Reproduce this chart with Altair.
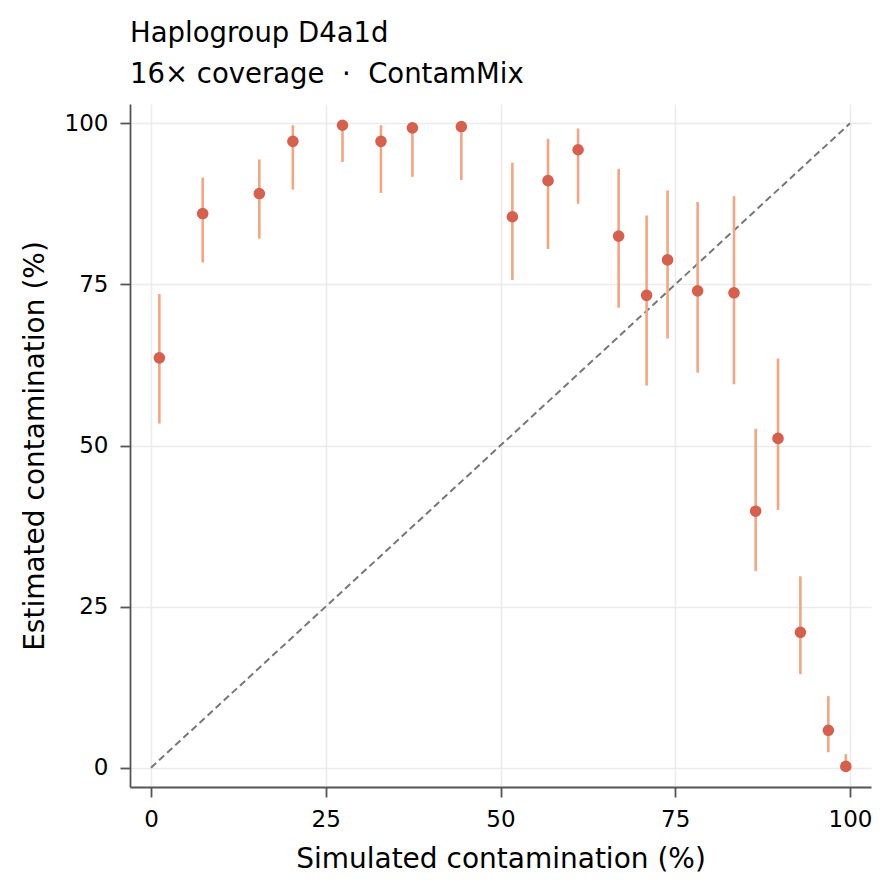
import altair as alt
import pandas as pd

# Simulated contamination (%)
sim = [1.2, 7.4, 15.5, 20.3, 27.4, 32.9, 37.4, 44.4, 51.7, 56.8, 61.1,
       66.9, 70.9, 73.9, 78.2, 83.4, 86.5, 89.7, 92.9, 96.9, 99.4]
# Estimated contamination (%)
est = [63.6, 86.0, 89.1, 97.2, 99.7, 97.2, 99.3, 99.5, 85.5, 91.1, 95.9,
       82.5, 73.3, 78.8, 74.0, 73.7, 39.8, 51.1, 21.0, 5.8, 0.2]
# Interval bounds
low = [53.4, 78.4, 82.1, 89.7, 94.0, 89.2, 91.7, 91.2, 75.7, 80.5, 87.5,
       71.4, 59.3, 66.6, 61.3, 59.5, 30.5, 40.0, 14.5, 2.4, 0.0]
high = [73.5, 91.6, 94.4, 99.7, 99.7, 99.7, 99.7, 99.7, 93.9, 97.6, 99.2,
        92.9, 85.7, 89.6, 87.8, 88.7, 52.6, 63.5, 29.7, 11.1, 2.1]

diag_x = [0, 100]
diag_y = [0, 100]
ticks = [0, 25, 50, 75, 100]

df = pd.DataFrame({"sim": sim, "est": est, "low": low, "high": high})
ddf = pd.DataFrame({"x": diag_x, "y": diag_y})

FONT = "DejaVu Sans"
xscale = alt.Scale(domain=[-3, 103], nice=False, zero=False)
yscale = alt.Scale(domain=[-3, 103], nice=False, zero=False)

xaxis = alt.Axis(values=ticks, title="Simulated contamination (%)", grid=True)
yaxis = alt.Axis(values=ticks, title="Estimated contamination (%)", grid=True)

diag = alt.Chart(ddf).mark_line(
    color="#777777", strokeDash=[7, 4], strokeWidth=2
).encode(
    x=alt.X("x:Q", scale=xscale, axis=xaxis),
    y=alt.Y("y:Q", scale=yscale, axis=yaxis),
)

bars = alt.Chart(df).mark_rule(color="#f4a582", strokeWidth=2.6).encode(
    x=alt.X("sim:Q", scale=xscale),
    y=alt.Y("low:Q", scale=yscale),
    y2="high:Q",
)

pts = alt.Chart(df).mark_circle(color="#d6604d", size=135, opacity=1).encode(
    x=alt.X("sim:Q", scale=xscale),
    y=alt.Y("est:Q", scale=yscale),
)

chart = alt.layer(diag, bars, pts).properties(
    width=741,
    height=683,
    autosize=alt.AutoSizeParams(type="none"),
    padding={"left": 122, "top": 96, "right": 15, "bottom": 90},
    title=alt.TitleParams(
        text=["Haplogroup D4a1d", "16× coverage\u00a0\u00a0·\u00a0\u00a0ContamMix"],
        anchor="start",
        frame="group",
        font=FONT,
        fontSize=27.5,
        fontWeight="normal",
        color="#000000",
        lineHeight=41,
        offset=16,
    ),
).configure_view(
    stroke=None
).configure_axis(
    labelFont=FONT,
    titleFont=FONT,
    labelFontSize=23,
    titleFontSize=28,
    titleFontWeight="normal",
    labelColor="#000000",
    titleColor="#000000",
    domainColor="#555555",
    domainWidth=1.8,
    tickColor="#555555",
    tickWidth=1.8,
    tickSize=10,
    gridColor="#ebebeb",
    gridWidth=1.5,
).configure_axisX(
    labelPadding=11,
    titlePadding=14,
).configure_axisY(
    labelPadding=12,
    titlePadding=15,
)

chart.save("out.html", embed_options={"renderer": "svg", "actions": False})
